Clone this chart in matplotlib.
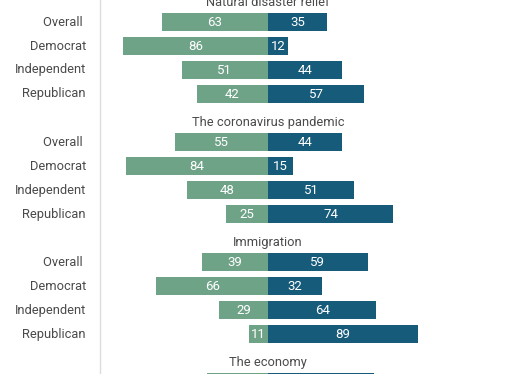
import matplotlib
matplotlib.use("Agg")
import matplotlib.pyplot as plt

topics = ["Natural disaster relief", "The coronavirus pandemic", "Immigration", "The economy"]
groups = ["Overall ", "Democrat", "Independent", "Republican"]
left_vals = [
    [63, 86, 51, 42],
    [55, 84, 48, 25],
    [39, 66, 29, 11],
    [36],
]
right_vals = [
    [35, 12, 44, 57],
    [44, 15, 51, 74],
    [59, 32, 64, 89],
    [63],
]

green = "#6fa388"
blue = "#175b7b"
txt = "#4a4a4a"

plt.rcParams["font.family"] = ["Roboto", "DejaVu Sans"]

fig = plt.figure(figsize=(5.17, 3.74), dpi=100)
ax = fig.add_axes([0, 0, 1, 1])

px = 1.69  # pixels per percentage point
ax.set_xlim(-268 / px, (517 - 268) / px)
ax.set_ylim(1 + 352 / 24, 1 - 22 / 24)

for g, topic in enumerate(topics):
    base = g * 5
    ax.text(0, base + 0.2, topic, ha="center", va="center", fontsize=9.3, color=txt)
    for r, (lv, rv) in enumerate(zip(left_vals[g], right_vals[g])):
        y = base + r + 1
        ax.barh(y, -lv, height=0.79, color=green)
        ax.barh(y, rv, height=0.79, color=blue)
        ax.text(-lv / 2, y, str(lv), ha="center", va="center", fontsize=9.5, color="white")
        ax.text(rv / 2, y, str(rv), ha="center", va="center", fontsize=9.5, color="white")
        ax.text((86 - 268) / px, y, groups[r], ha="right", va="center", fontsize=9.3, color=txt)

ax.axvline((100 - 268) / px, color="#dcdcdc", lw=1)
ax.axis("off")

fig.savefig("out.png", dpi=100)
